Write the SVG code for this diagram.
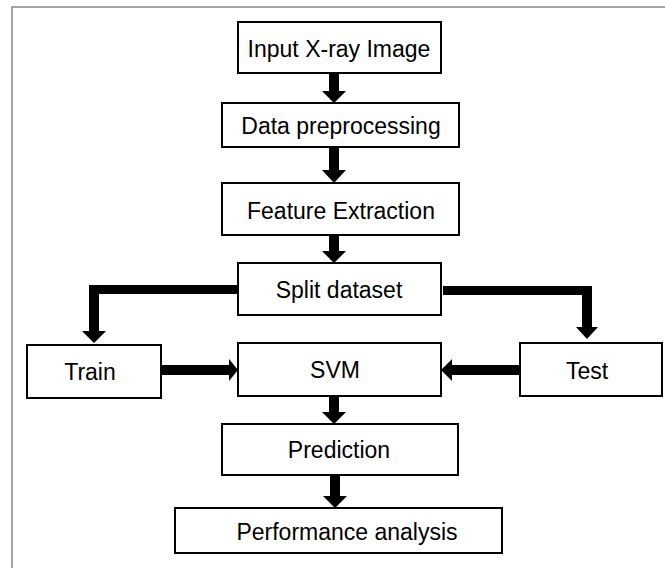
<svg xmlns="http://www.w3.org/2000/svg" width="665" height="568" viewBox="0 0 665 568">
<style>
.box{fill:#fff;stroke:#000;stroke-width:2}
.lbl{font-family:"Liberation Sans",Arial,sans-serif;font-size:23px;fill:#000;text-anchor:middle}
.arr{fill:#000;stroke:none}
.frame{fill:none;stroke:#888;stroke-width:1.5}
</style>
<rect width="665" height="568" fill="#fff"/>
<path class="frame" d="M12,568 L12,7 L665,7"/>
<g id="connectors">
<path class="arr" d="M329,73 L339,73 L339,91 L346,91 L334,103 L322,91 L329,91 Z"/>
<path class="arr" d="M329,147 L339,147 L339,170 L346,170 L334,183 L322,170 L329,170 Z"/>
<path class="arr" d="M329,235 L339,235 L339,251 L346,251 L334,263 L322,251 L329,251 Z"/>
<path class="arr" d="M238,285 L89,285 L89,331 L82,331 L94,343 L106,331 L99,331 L99,294 L238,294 Z"/>
<path class="arr" d="M443,286 L592,286 L592,327 L598,327 L587,339 L576,327 L582,327 L582,295 L443,295 Z"/>
<path class="arr" d="M161,365 L229,365 L229,359 L238,370 L229,381 L229,375 L161,375 Z"/>
<path class="arr" d="M520,365 L452,365 L452,359 L441,370 L452,381 L452,375 L520,375 Z"/>
<path class="arr" d="M329,396 L339,396 L339,412 L346,412 L334,424 L322,412 L329,412 Z"/>
<path class="arr" d="M330,475 L340,475 L340,496 L347,496 L335,508 L323,496 L330,496 Z"/>
</g>
<g id="input"><rect class="box" x="238" y="22" width="203" height="51"/><text class="lbl" x="339" y="57">Input X-ray Image</text></g>
<g id="preprocessing"><rect class="box" x="222" y="103" width="237" height="44"/><text class="lbl" x="341" y="134">Data preprocessing</text></g>
<g id="features"><rect class="box" x="222" y="183" width="237" height="52"/><text class="lbl" x="341" y="219">Feature Extraction</text></g>
<g id="split"><rect class="box" x="238" y="263" width="203" height="52"/><text class="lbl" x="339" y="298">Split dataset</text></g>
<g id="train"><rect class="box" x="27" y="345" width="134" height="53"/><text class="lbl" x="90" y="380">Train</text></g>
<g id="svm"><rect class="box" x="238" y="343" width="203" height="53"/><text class="lbl" x="335" y="378">SVM</text></g>
<g id="test"><rect class="box" x="520" y="343" width="142" height="53"/><text class="lbl" x="587" y="379">Test</text></g>
<g id="prediction"><rect class="box" x="222" y="424" width="236" height="51"/><text class="lbl" x="339" y="458">Prediction</text></g>
<g id="performance"><rect class="box" x="175" y="508" width="327" height="45"/><text class="lbl" x="347" y="540">Performance analysis</text></g>
</svg>
